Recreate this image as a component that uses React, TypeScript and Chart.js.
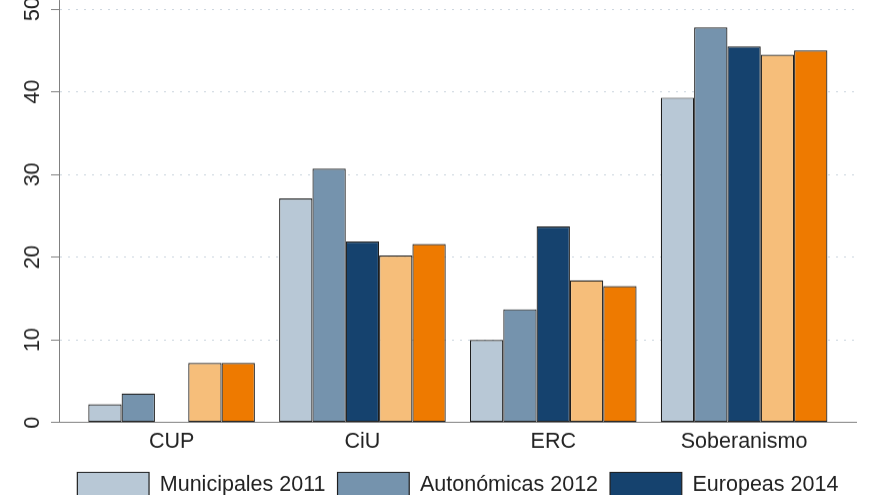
import { useEffect, useRef } from "react";
import { Chart, registerables } from "chart.js";

Chart.register(...registerables);

const CATEGORIES = ["CUP", "CiU", "ERC", "Soberanismo"];
const SERIES_NAMES = [
  "Municipales 2011",
  "Autonómicas 2012",
  "Europeas 2014",
  "Encuesta 2015",
  "Municipales 2015",
];
const MUNICIPALES_2011 = [2.2, 27.1, 10.0, 39.3];
const AUTONOMICAS_2012 = [3.5, 30.7, 13.7, 47.8];
const EUROPEAS_2014: (number | null)[] = [null, 21.9, 23.7, 45.5];
const ENCUESTA_2015 = [7.2, 20.2, 17.2, 44.5];
const MUNICIPALES_2015 = [7.2, 21.6, 16.5, 45.0];
const SERIES_COLORS = ["#b8c8d6", "#7593ad", "#15426e", "#f6be7a", "#ee7a00"];

const FONT = { family: "'Liberation Sans', Arial, sans-serif", size: 21.5 };

export default function App() {
  const ref = useRef<HTMLCanvasElement>(null);

  useEffect(() => {
    if (!ref.current) return;
    const series = [MUNICIPALES_2011, AUTONOMICAS_2012, EUROPEAS_2014, ENCUESTA_2015, MUNICIPALES_2015];
    const chart = new Chart(ref.current, {
      type: "bar",
      data: {
        datasets: series.map((vals, si) => ({
          label: SERIES_NAMES[si],
          data: vals.map((v, i) => ({ x: i, y: v })),
          backgroundColor: SERIES_COLORS[si],
          borderColor: "#1e1e1e",
          borderWidth: 1.2,
          borderSkipped: false,
          categoryPercentage: 0.873,
          barPercentage: 1.0,
        })) as any,
      },
      options: {
        animation: false,
        responsive: true,
        maintainAspectRatio: false,
        layout: { padding: { top: 20, left: 0, right: 0, bottom: 0 } },
        plugins: {
          legend: {
            position: "bottom",
            align: "center",
            fullSize: false,
            labels: {
              boxWidth: 71.7,
              boxHeight: 26,
              padding: 12,
              color: "#222",
              font: FONT,
            },
          },
          tooltip: { enabled: false },
        },
        scales: {
          x: {
            type: "linear",
            offset: false,
            min: -0.59,
            max: 3.59,
            grid: { display: false, drawTicks: false, offset: false },
            border: { display: true, color: "#808080", width: 1 },
            ticks: {
              stepSize: 1,
              includeBounds: false,
              autoSkip: false,
              maxRotation: 0,
              minRotation: 0,
              padding: 6,
              color: "#222",
              font: FONT,
              callback: (v: any) =>
                Number.isInteger(v) && CATEGORIES[v] !== undefined ? CATEGORIES[v] : "",
            },
            afterFit: (s: any) => {
              s.paddingRight = 23.3;
            },
          } as any,
          y: {
            min: 0,
            max: 51.1,
            ticks: {
              stepSize: 10,
              includeBounds: false,
              minRotation: 90,
              maxRotation: 90,
              crossAlign: "center",
              padding: 6,
              color: "#222",
              font: FONT,
            },
            grid: {
              color: (c: any) =>
                c.tick && c.tick.value === 0 ? "rgba(0,0,0,0)" : "#cbd5de",
              lineWidth: 1,
              tickColor: "#808080",
              tickLength: 8,
              tickWidth: 1,
            },
            border: { display: true, color: "#808080", width: 1, dash: [2, 6] },
            afterFit: (s: any) => {
              s.width = 59;
            },
          } as any,
        },
      },
    });
    return () => chart.destroy();
  }, []);

  return (
    <div
      style={{
        position: "fixed",
        left: 0,
        top: 0,
        width: 880,
        height: 495,
        overflow: "hidden",
        background: "#fff",
      }}
    >
      <div style={{ position: "absolute", left: 0, top: -20, width: 880, height: 565.5 }}>
        <canvas ref={ref} />
      </div>
    </div>
  );
}
